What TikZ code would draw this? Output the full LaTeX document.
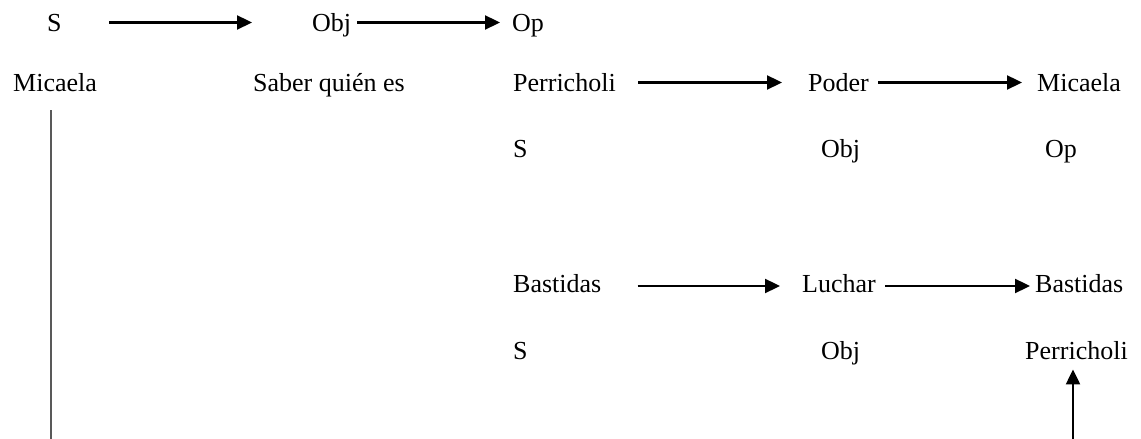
\documentclass[tikz,border=0pt]{standalone}
\usepackage{fontspec}
\setmainfont{Liberation Serif}
\usetikzlibrary{arrows.meta}
\begin{document}
\begin{tikzpicture}[x=1bp,y=-1bp,
  lbl/.style={anchor=base west, inner sep=0pt, font=\fontsize{26bp}{30bp}\selectfont},
  arr/.style={-{Triangle[length=15bp,width=14bp]}, line width=2.3bp},
  up/.style={yshift=9.5bp},
  low/.style={yshift=7bp}]
\useasboundingbox (0,0) rectangle (1141,439);

% first actant triple
\node[lbl] (s1)   at (47,32)  {S};
\node[lbl] (obj1) at (312,32) {Obj};
\node[lbl] (op1)  at (512,32) {Op};

\node[lbl] (mic1)  at (13,92)   {Micaela};
\node[lbl] (saber) at (253,92)  {Saber quién es};
\node[lbl] (per1)  at (513,92)  {Perricholi};
\node[lbl] (poder) at (808,92)  {Poder};
\node[lbl] (mic2)  at (1037,92) {Micaela};

\node[lbl] (s2)   at (513,158)  {S};
\node[lbl] (obj2) at (821,158)  {Obj};
\node[lbl] (op2)  at (1045,158) {Op};

\node[lbl] (bas1)   at (513,293)  {Bastidas};
\node[lbl] (luchar) at (802,293)  {Luchar};
\node[lbl] (bas2)   at (1035,293) {Bastidas};

\node[lbl] (s3)   at (513,360)  {S};
\node[lbl] (obj3) at (821,360)  {Obj};
\node[lbl] (per2) at (1025,360) {Perricholi};

% horizontal arrows
\draw[arr, shorten <=47.5bp, shorten >=60bp] ([up]s1.base east) -- ([up]obj1.base west);
\draw[arr, shorten <=6bp, shorten >=12bp] ([up]obj1.base east) -- ([up]op1.base west);
\draw[arr, shorten <=22.5bp, shorten >=26bp] ([up]per1.base east) -- ([up]poder.base west);
\draw[arr, shorten <=9.3bp, shorten >=15bp] ([up]poder.base east) -- ([up]mic2.base west);
\draw[arr, shorten <=36bp, shorten >=22bp] ([low]bas1.base east) -- ([low]luchar.base west);
\draw[arr, shorten <=9.4bp, shorten >=5bp] ([low]luchar.base east) -- ([low]bas2.base west);

% vertical connectors
\coordinate (lbot) at (51,439);
\coordinate (rbot) at (1073,439);
\draw[line width=1.3bp, black!65, shorten <=18bp] (mic1.south -| lbot) -- (lbot);
\draw[arr, shorten >=9bp] (rbot) -- (rbot |- per2.south);
\end{tikzpicture}
\end{document}
